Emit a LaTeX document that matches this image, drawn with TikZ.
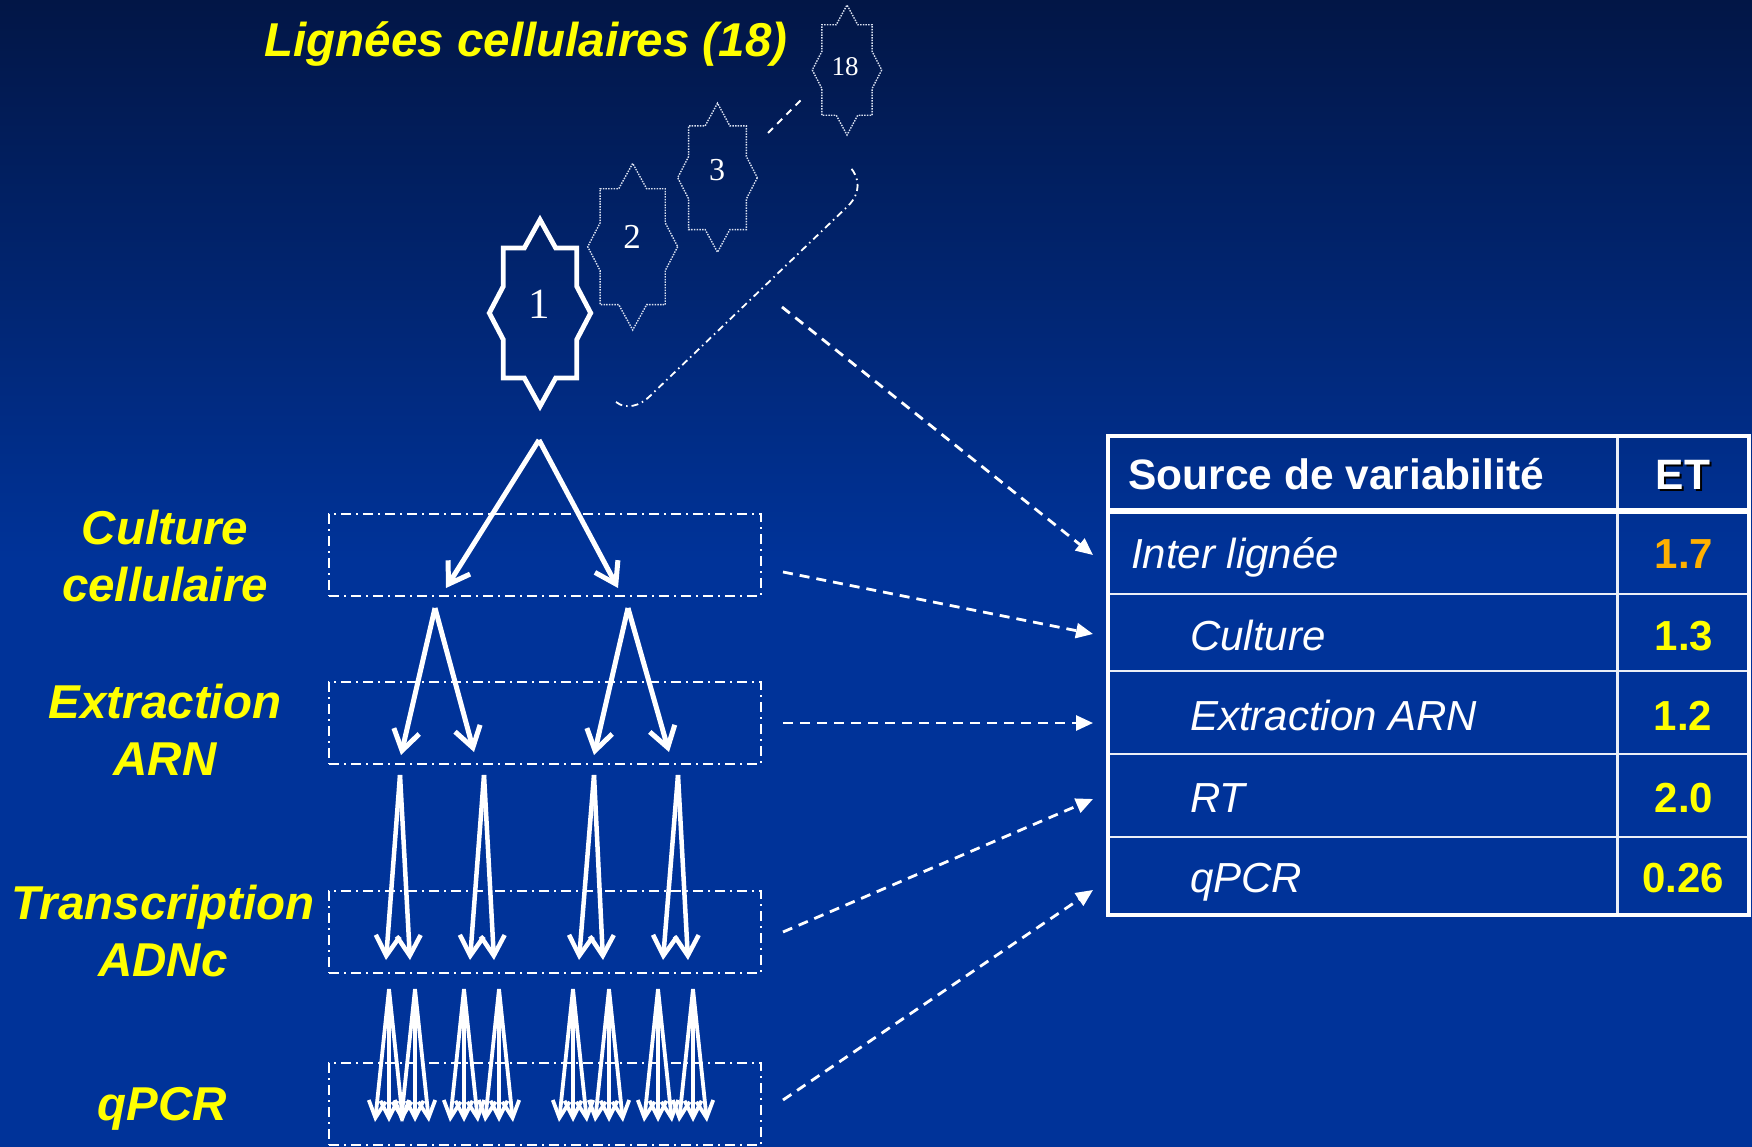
\documentclass[tikz,border=0pt]{standalone}
\usepackage{fontspec}
\setmainfont{Liberation Sans}
\newfontfamily\numfont{Liberation Serif}
\usetikzlibrary{arrows.meta}
\definecolor{bgblue}{RGB}{0,51,153}
\definecolor{bgtop}{RGB}{2,22,70}
\definecolor{lblyellow}{RGB}{255,255,0}
\definecolor{valorange}{RGB}{255,176,0}
\newcommand\eightstar{(1,0) -- (0.724,0.286) -- (0.724,0.696) -- (0.31,0.696) -- (0,1) -- (-0.31,0.696) -- (-0.724,0.696) -- (-0.724,0.286) -- (-1,0) -- (-0.724,-0.286) -- (-0.724,-0.696) -- (-0.31,-0.696) -- (0,-1) -- (0.31,-0.696) -- (0.724,-0.696) -- (0.724,-0.286) -- cycle}
\tikzset{
  stagelabel/.style={text=lblyellow,font=\fontsize{47.5}{57}\selectfont\bfseries\itshape,align=center,inner sep=0pt},
  stagebox/.style={draw=white,line width=2pt,dash pattern=on 10pt off 5pt on 2pt off 5pt,minimum width=432pt,minimum height=82pt,inner sep=0pt},
  bigarrow/.style={draw=white,line width=5pt,-{Straight Barb[length=20pt,width=26pt]}},
  midarrow/.style={draw=white,line width=4.5pt,-{Straight Barb[length=20pt,width=24pt]}},
  smallarrow/.style={draw=white,line width=3.8pt,-{Straight Barb[length=17pt,width=17pt]}},
  conn/.style={draw=white,line width=2.8pt,dash pattern=on 10pt off 7pt,-{Triangle[length=17pt,width=15pt]}},
  starsolid/.style={draw=white,line width=4.8pt},
  stardotted/.style={draw=white!85!bgblue,line width=1.4pt,dash pattern=on 1.5pt off 1.2pt},
  starnum/.style={text=white,inner sep=0pt},
  hdrtxt/.style={text=white,font=\fontsize{42.5}{50}\selectfont\bfseries,inner sep=0pt},
  rowtxt/.style={text=white,font=\fontsize{42}{50}\selectfont\itshape,inner sep=0pt},
  valtxt/.style={font=\fontsize{42}{50}\selectfont\bfseries,inner sep=0pt},
  cellline/.style={draw=white!92!bgblue,line width=2.5pt},
}
\begin{document}
\begin{tikzpicture}[x=1pt,y=-1pt]
\useasboundingbox (0,0) rectangle (1752,1147);
\fill[bgblue] (0,0) rectangle (1752,1147);
\shade[top color=bgtop,bottom color=bgblue] (0,0) rectangle (1752,560);

% ---------- title
\node[stagelabel,anchor=base] (title) at (526,57) {Lignées cellulaires (18)};

% ---------- stars
\begin{scope}[shift={(540,313)},xscale=50.7,yscale=93.3]
  \draw[starsolid] \eightstar;
\end{scope}
\begin{scope}[shift={(632.7,246.7)},xscale=45,yscale=83.3]
  \draw[stardotted] \eightstar;
\end{scope}
\begin{scope}[shift={(717.5,177.7)},xscale=39.8,yscale=74.5]
  \draw[stardotted] \eightstar;
\end{scope}
\begin{scope}[shift={(847,70)},xscale=34.7,yscale=65]
  \draw[stardotted] \eightstar;
\end{scope}
\node[starnum,font=\numfont\fontsize{43}{43}\selectfont] (star1) at (539,304) {1};
\node[starnum,font=\numfont\fontsize{35}{35}\selectfont] (star2) at (632,237) {2};
\node[starnum,font=\numfont\fontsize{32}{32}\selectfont] (star3) at (717,170) {3};
\node[starnum,font=\numfont\fontsize{27}{27}\selectfont] (star18) at (845,67) {18};

% dashed ellipsis between 3 and 18
\coordinate (ell1) at (768,133);
\coordinate (ell2) at (802,99);
\draw[white,line width=2pt,dash pattern=on 7pt off 6pt] (ell1) -- (ell2);

% dash-dot bracket
\coordinate (br1) at (616,402);
\coordinate (br2) at (650,396);
\coordinate (br3) at (848,206);
\coordinate (br4) at (850,167);
\draw[white,line width=1.8pt,dash pattern=on 7pt off 4pt on 1.5pt off 4pt]
  (br1) .. controls (626,410) and (640,406) .. (br2) -- (br3) .. controls (861,193) and (860,178) .. (br4);

% ---------- stage labels
\node[stagelabel] (lblCulture) at (165,556) {Culture\\cellulaire};
\node[stagelabel] (lblExtr) at (165,730) {Extraction\\ARN};
\node[stagelabel] (lblTrans) at (163,931) {Transcription\\ADNc};
\node[stagelabel,anchor=base] (lblqPCR) at (162,1120) {qPCR};

% ---------- stage boxes
\node[stagebox] (box1) at (545,555) {};
\node[stagebox] (box2) at (545,723) {};
\node[stagebox] (box3) at (545,932) {};
\node[stagebox] (box4) at (545,1104) {};

% ---------- tree arrows
\coordinate (a0) at (539,440);
\coordinate (b1) at (446,588);
\coordinate (b2) at (618,588);
\draw[bigarrow] (a0) -- (b1);
\draw[bigarrow] (a0) -- (b2);

\coordinate (a1) at (435,608);
\coordinate (a2) at (628,608);
\coordinate (c1) at (401,755);
\coordinate (c2) at (474,752);
\coordinate (c3) at (594,755);
\coordinate (c4) at (669,752);
\draw[bigarrow] (a1) -- (c1);
\draw[bigarrow] (a1) -- (c2);
\draw[bigarrow] (a2) -- (c3);
\draw[bigarrow] (a2) -- (c4);

\foreach \x/\l/\r [count=\i] in {400/386/410,484/470/494,594/579/603,678/663/688}{
  \coordinate (d\i) at (\x,775);
  \coordinate (e\i-1) at (\l,960);
  \coordinate (e\i-2) at (\r,960);
  \draw[midarrow] (d\i) -- (e\i-1);
  \draw[midarrow] (d\i) -- (e\i-2);
}

\foreach \x [count=\i] in {389,415,464,499,573,609,658,693}{
  \coordinate (f\i) at (\x,989);
  \foreach \dx [count=\j] in {-14,0,14}{
    \coordinate (g\i-\j) at ({\x+\dx},1122);
    \draw[smallarrow] (f\i) -- (g\i-\j);
  }
}

% ---------- table
\draw[cellline] (1108,594) -- (1749,594);
\draw[cellline] (1108,671) -- (1749,671);
\draw[cellline] (1108,754) -- (1749,754);
\draw[cellline] (1108,837) -- (1749,837);
\draw[cellline,line width=3pt] (1617,436) -- (1617,915);
\draw[white,line width=6pt] (1108,511) -- (1749,511);
\draw[white,line width=4.5pt] (1108,436) rectangle (1749,915);

\node[hdrtxt,anchor=base west] (hSource) at (1128,489) {Source de variabilité};
\node[hdrtxt,anchor=base,text=black] (hETshadow) at (1685,491) {ET};
\node[hdrtxt,anchor=base] (hET) at (1683,489) {ET};

\node[rowtxt,anchor=base west] (rInter) at (1131,568) {Inter lignée};
\node[rowtxt,anchor=base west] (rCulture) at (1190,650) {Culture};
\node[rowtxt,anchor=base west] (rExtr) at (1190,730) {Extraction ARN};
\node[rowtxt,anchor=base west] (rRT) at (1190,812) {RT};
\node[rowtxt,anchor=base west] (rqPCR) at (1190,892) {qPCR};

\node[valtxt,text=valorange,anchor=base] (vInter) at (1684,568) {1.7};
\node[valtxt,text=lblyellow,anchor=base] (vCulture) at (1684,650) {1.3};
\node[valtxt,text=lblyellow,anchor=base] (vExtr) at (1683,730) {1.2};
\node[valtxt,text=lblyellow,anchor=base] (vRT) at (1684,812) {2.0};
\node[valtxt,text=lblyellow,anchor=base] (vqPCR) at (1683,892) {0.26};

% ---------- connectors to the table
\coordinate (sInter) at (782,307);
\coordinate (eInter) at (1093,555);
\coordinate (eCulture) at (1093,634);
\coordinate (eExtr) at (1093,723);
\coordinate (eRT) at (1093,799);
\coordinate (eqPCR) at (1093,890);
\draw[conn] (sInter) -- (eInter);
\draw[conn] ([xshift=21pt,yshift=-17pt]box1.east) -- (eCulture);
\draw[conn] ([xshift=21pt]box2.east) -- (eExtr);
\draw[conn] ([xshift=21pt]box3.east) -- (eRT);
\draw[conn] ([xshift=21pt,yshift=4pt]box4.east) -- (eqPCR);
\end{tikzpicture}
\end{document}
